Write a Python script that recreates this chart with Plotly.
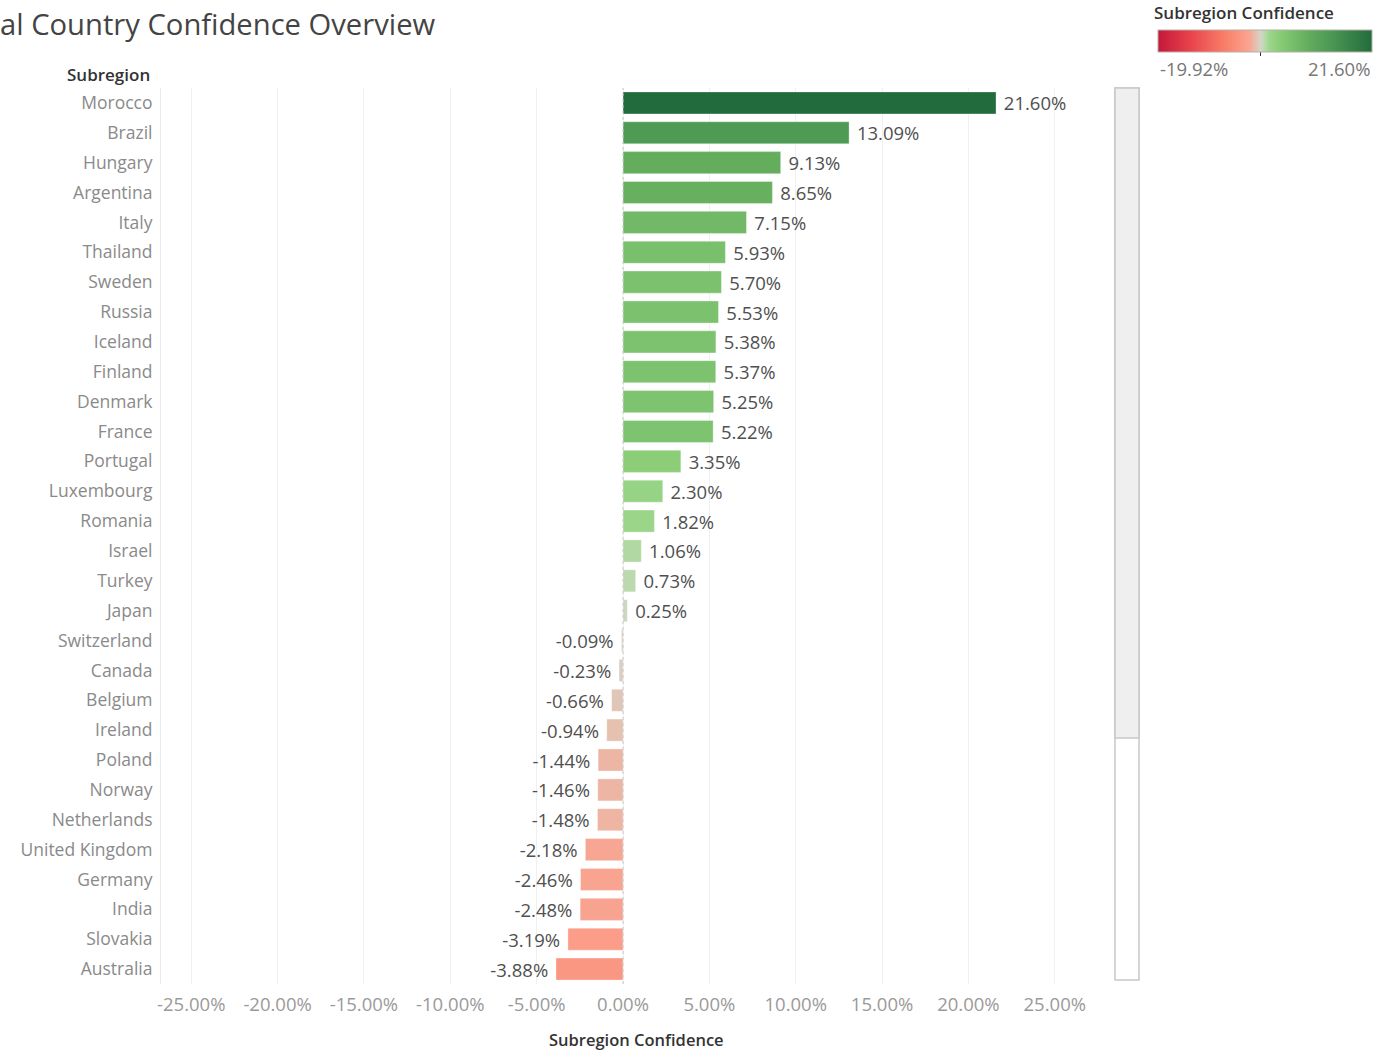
import plotly.graph_objects as go

# Subregion confidence values (%) shown in the list view
countries = [
    "Morocco", "Brazil", "Hungary", "Argentina", "Italy", "Thailand", "Sweden",
    "Russia", "Iceland", "Finland", "Denmark", "France", "Portugal", "Luxembourg",
    "Romania", "Israel", "Turkey", "Japan", "Switzerland", "Canada", "Belgium",
    "Ireland", "Poland", "Norway", "Netherlands", "United Kingdom", "Germany",
    "India", "Slovakia", "Australia",
]
confidence = [
    21.60, 13.09, 9.13, 8.65, 7.15, 5.93, 5.70, 5.53, 5.38, 5.37, 5.25, 5.22,
    3.35, 2.30, 1.82, 1.06, 0.73, 0.25, -0.09, -0.23, -0.66, -0.94, -1.44,
    -1.46, -1.48, -2.18, -2.46, -2.48, -3.19, -3.88,
]
color_min, color_max = -19.92, 21.60
x_ticks = [-25, -20, -15, -10, -5, 0, 5, 10, 15, 20, 25]
x_tick_labels = [f"{v:.2f}%" for v in x_ticks]

W, H = 1380, 1051
L, R, T, B = 161, 1085, 88, 984
FONT = "Open Sans"
NUM_SIZE = 18.5

def px(x):
    return (x - L) / (R - L)

def py(y):
    return (B - y) / (B - T)

red_green = [
    [0.00, "#c4183a"], [0.15, "#e8424c"], [0.30, "#f77a66"], [0.40, "#fb9c88"],
    [0.43, "#f7a794"], [0.455, "#e6bfad"], [0.48, "#d6d4c8"], [0.50, "#b8d9aa"],
    [0.52, "#9dd68c"], [0.56, "#8ccd78"], [0.61, "#7dc36f"], [0.70, "#63ad5d"],
    [0.80, "#4e9a55"], [1.00, "#226b3d"],
]

# pad the value labels away from the bar ends
labels = [(f" {v:.2f}%" if v >= 0 else f"{v:.2f}% ") for v in confidence]

fig = go.Figure()
fig.add_trace(go.Bar(
    x=confidence,
    y=countries,
    orientation="h",
    text=labels,
    textposition="outside",
    constraintext="none",
    cliponaxis=False,
    textfont=dict(family=FONT, size=NUM_SIZE, color="#505050"),
    marker=dict(
        color=confidence,
        colorscale=red_green,
        cmin=color_min,
        cmax=color_max,
        line=dict(width=1, color="rgba(255,255,255,0.35)"),
        showscale=True,
        colorbar=dict(
            orientation="h",
            x=px(1265), xanchor="center",
            y=py(30), yanchor="top",
            lenmode="pixels", len=214,
            thickness=22,
            outlinewidth=1, outlinecolor="#b8b0a5",
            ticks="outside", tickvals=[0], ticklen=4, tickwidth=1, tickcolor="#333",
            showticklabels=False,
            xpad=0, ypad=0,
        ),
    ),
    hoverinfo="skip",
))

fig.update_layout(
    width=W, height=H,
    margin=dict(l=L, r=W - R, t=T, b=H - B, autoexpand=False),
    paper_bgcolor="white",
    plot_bgcolor="white",
    bargap=0.26,
    showlegend=False,
    font=dict(family=FONT),
    xaxis=dict(
        range=[-26.75, 26.75],
        tickvals=x_ticks,
        ticktext=x_tick_labels,
        tickfont=dict(family=FONT, size=NUM_SIZE, color="#9a9a9a"),
        showgrid=True, gridcolor="#f0f0f0", gridwidth=1,
        zeroline=False,
        showline=False,
        ticks="",
        ticklabelstandoff=7,
    ),
    yaxis=dict(
        categoryorder="array",
        categoryarray=countries[::-1],
        range=[-0.5, len(countries) - 0.5],
        tickfont=dict(family=FONT, size=17.5, color="#8a8a8a"),
        showgrid=False,
        zeroline=False,
        showline=True, linecolor="#ebebeb", linewidth=1,
        ticks="",
        ticklabelstandoff=4,
    ),
)

# dotted zero reference line
fig.add_shape(type="line", xref="x", yref="paper", x0=0, x1=0, y0=0, y1=1,
              line=dict(color="#c8c8c8", width=1, dash="dot"), layer="above")

# scroll track and thumb beside the list
fig.add_shape(type="rect", xref="paper", yref="paper",
              x0=px(1115), x1=px(1139), y0=py(980), y1=py(88),
              line=dict(color="#c8c8c8", width=1.5), fillcolor="white")
fig.add_shape(type="rect", xref="paper", yref="paper",
              x0=px(1115), x1=px(1139), y0=py(738), y1=py(88),
              line=dict(color="#c8c8c8", width=1.5), fillcolor="#efefef")

annotations = [
    dict(text="Global Country Confidence Overview", x=px(438), y=py(24),
         xanchor="right", yanchor="middle",
         font=dict(family=FONT, size=29.2, color="#444444")),
    dict(text="Subregion", x=px(152), y=py(75), xanchor="right", yanchor="middle",
         font=dict(family=FONT, size=17, color="#333333", weight=600)),
    dict(text="Subregion Confidence", x=px(636), y=py(1039),
         xanchor="center", yanchor="middle",
         font=dict(family=FONT, size=16.5, color="#333333", weight=600)),
    dict(text="Subregion Confidence", x=px(1152), y=py(13),
         xanchor="left", yanchor="middle",
         font=dict(family=FONT, size=17, color="#333333", weight=600)),
    dict(text=f"{color_min:.2f}%", x=px(1158), y=py(69),
         xanchor="left", yanchor="middle",
         font=dict(family=FONT, size=NUM_SIZE, color="#777777")),
    dict(text=f"{color_max:.2f}%", x=px(1372), y=py(69),
         xanchor="right", yanchor="middle",
         font=dict(family=FONT, size=NUM_SIZE, color="#777777")),
]
for a in annotations:
    fig.add_annotation(xref="paper", yref="paper", showarrow=False, **a)

fig.write_html("out.html")
